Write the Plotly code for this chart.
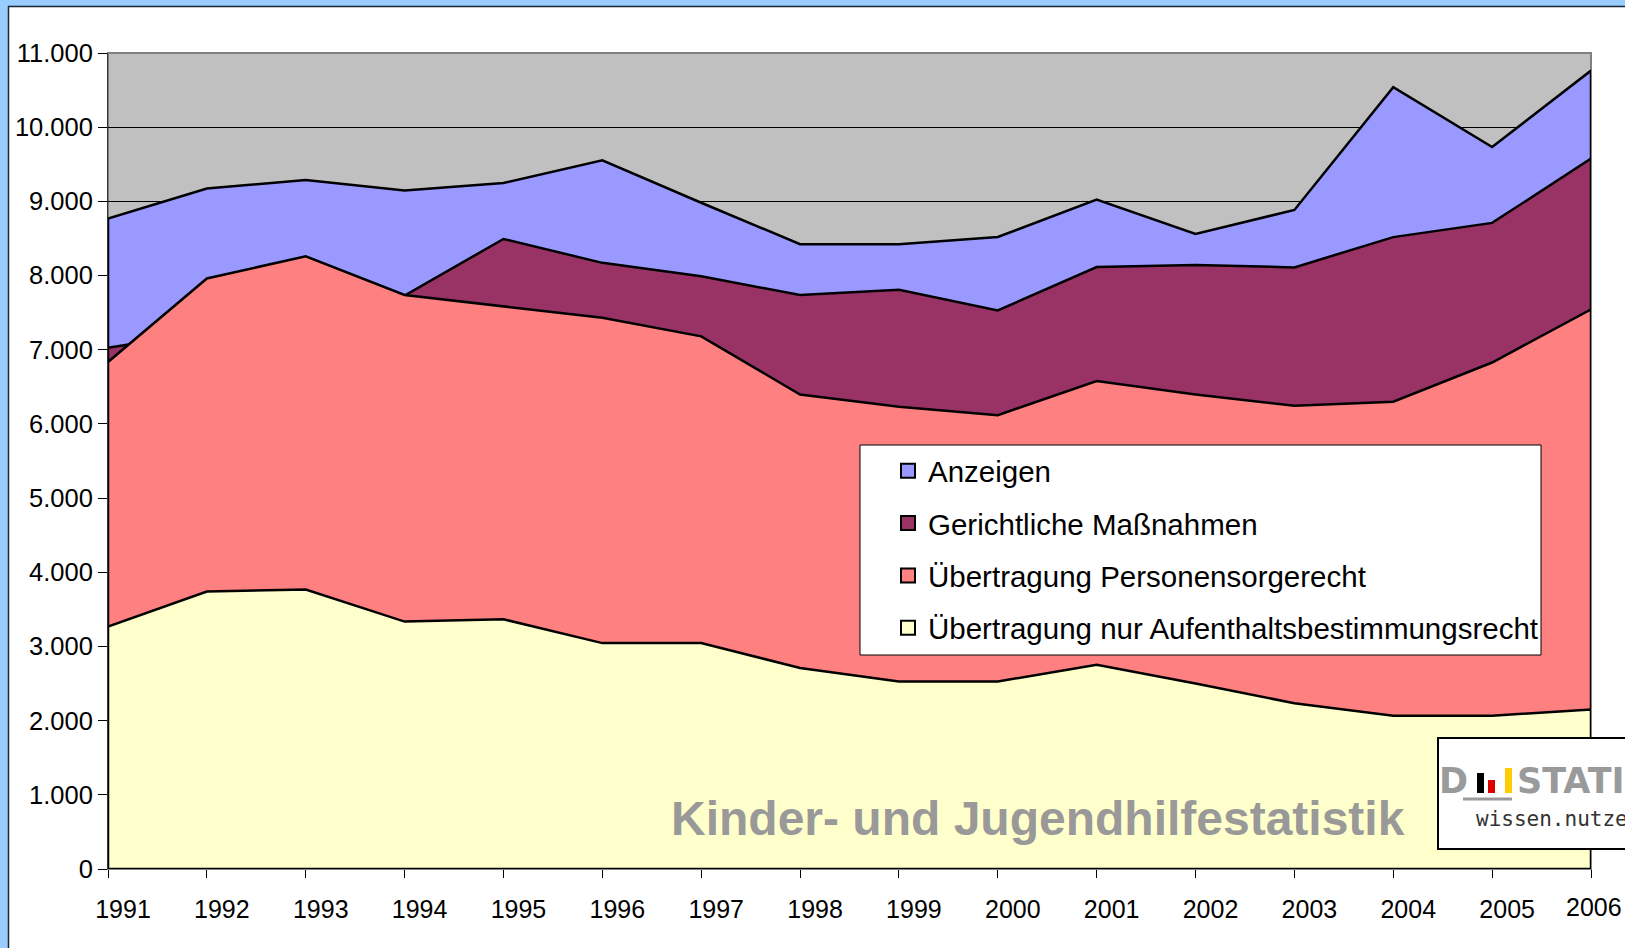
import plotly.graph_objects as go

# ---------------- data ----------------
years = list(range(1991, 2007))
# absolute heights of the (overlapping) area series
anzeigen = [8768, 9172, 9288, 9145, 9247, 9554, 8981, 8423, 8423, 8520, 9023, 8562, 8884, 10540, 9732, 10763]
gerichtliche = [7025, 7240, 7500, 7730, 8493, 8171, 7990, 7738, 7808, 7529, 8115, 8143, 8110, 8518, 8710, 9576]
personensorge = [6835, 7960, 8260, 7738, 7585, 7431, 7180, 6397, 6230, 6118, 6579, 6397, 6244, 6300, 6828, 7545]
aufenthalt = [3268, 3740, 3768, 3335, 3366, 3045, 3045, 2710, 2528, 2528, 2752, 2500, 2235, 2067, 2067, 2151]

series_names = ["Anzeigen", "Gerichtliche Maßnahmen", "Übertragung Personensorgerecht",
                "Übertragung nur Aufenthaltsbestimmungsrecht"]
series_values = [anzeigen, gerichtliche, personensorge, aufenthalt]
series_colors = ["#9999FF", "#993366", "#FF8080", "#FFFFCC"]
y_tick_vals = list(range(0, 11001, 1000))
x_tick_text = [str(y) for y in years]
title_text = "Kinder- und Jugendhilfestatistik"

# ---------------- layout helpers ----------------
W, H = 1625, 948
L, R, T, B = 108, 34, 53, 79
PW, PH = W - L - R, H - T - B
FONT = "Liberation Sans, Arial, sans-serif"


def px(x):
    return (x - L) / PW


def py(y):
    return (H - B - y) / PH


fig = go.Figure()

# area polygons (back to front)
for name, vals, col in zip(series_names, series_values, series_colors):
    xs = [years[0]] + years + [years[-1], years[0]]
    ys = [0] + vals + [0, 0]
    fig.add_trace(go.Scatter(x=xs, y=ys, mode="lines", fill="toself", fillcolor=col,
                             line=dict(color="black", width=2.5), showlegend=False,
                             hoverinfo="skip", name=name))

# legend entries (square swatches)
for name, col in zip(series_names, series_colors):
    fig.add_trace(go.Scatter(x=[None], y=[None], mode="markers", name=name, legendgroup=name,
                             marker=dict(symbol="square", size=14, color=col,
                                         line=dict(color="black", width=2))))

shapes = [
    # light blue frame strips
    dict(type="rect", xref="paper", yref="paper", x0=px(0), x1=px(8), y0=py(H), y1=py(0),
         fillcolor="#99CCFF", line=dict(width=0), layer="below"),
    dict(type="rect", xref="paper", yref="paper", x0=px(0), x1=px(W), y0=py(6), y1=py(0),
         fillcolor="#99CCFF", line=dict(width=0), layer="below"),
    dict(type="line", xref="paper", yref="paper", x0=px(8.5), x1=px(8.5), y0=py(6), y1=py(H),
         line=dict(color="#1a2633", width=1.5), layer="below"),
    dict(type="line", xref="paper", yref="paper", x0=px(8), x1=px(W), y0=py(6.5), y1=py(6.5),
         line=dict(color="#1a2633", width=1.5), layer="below"),
    # plot area border
    dict(type="rect", xref="paper", yref="paper", x0=0, x1=1, y0=0, y1=1,
         line=dict(color="#808080", width=2), fillcolor="rgba(0,0,0,0)", layer="between"),
    # legend box
    dict(type="rect", xref="paper", yref="paper", x0=px(860), x1=px(1541), y0=py(655), y1=py(445),
         fillcolor="white", line=dict(color="black", width=1), layer="above"),
    # logo box
    dict(type="rect", xref="paper", yref="paper", x0=px(1438), x1=px(1700), y0=py(849), y1=py(738),
         fillcolor="white", line=dict(color="black", width=2), layer="above"),
    # logo bars
    dict(type="rect", xref="paper", yref="paper", x0=px(1477), x1=px(1484), y0=py(793), y1=py(773),
         fillcolor="#000000", line=dict(width=0), layer="above"),
    dict(type="rect", xref="paper", yref="paper", x0=px(1488), x1=px(1495), y0=py(793), y1=py(780),
         fillcolor="#DD0000", line=dict(width=0), layer="above"),
    dict(type="rect", xref="paper", yref="paper", x0=px(1505), x1=px(1512), y0=py(793), y1=py(768),
         fillcolor="#FFCC00", line=dict(width=0), layer="above"),
    dict(type="line", xref="paper", yref="paper", x0=px(1463), x1=px(1512), y0=py(799), y1=py(799),
         line=dict(color="#9a9a9a", width=3), layer="above"),
]

annotations = [
    dict(text=title_text, xref="paper", yref="paper", x=px(1038), y=py(818), xanchor="center",
         yanchor="middle", showarrow=False,
         font=dict(family=FONT, size=48, color="#999999", weight="bold")),
    dict(text="D", xref="paper", yref="paper", x=px(1437), y=py(781), xanchor="left",
         yanchor="middle", showarrow=False,
         font=dict(family="DejaVu Sans, sans-serif", size=35, color="#9a9a9a", weight="bold")),
    dict(text="STATIS", xref="paper", yref="paper", x=px(1515), y=py(781), xanchor="left",
         yanchor="middle", showarrow=False,
         font=dict(family="DejaVu Sans, sans-serif", size=35, color="#9a9a9a", weight="bold")),
    dict(text="wissen.nutzen.", xref="paper", yref="paper", x=px(1474), y=py(819), xanchor="left",
         yanchor="middle", showarrow=False,
         font=dict(family="DejaVu Sans Mono, monospace", size=21, color="#333333")),
    # last x label kept inside the page
    dict(text=x_tick_text[-1], xref="x", yref="paper", x=years[-1], y=0, xanchor="center",
         yanchor="middle", yshift=-38, xshift=3, showarrow=False,
         font=dict(family=FONT, size=25, color="black")),
]

fig.update_layout(
    width=W, height=H,
    margin=dict(l=L, r=R, t=T, b=B, pad=0),
    paper_bgcolor="white",
    plot_bgcolor="#C0C0C0",
    separators=",.",
    showlegend=True,
    legend=dict(x=px(888), y=py(445), xanchor="left", yanchor="top",
                bgcolor="rgba(0,0,0,0)", borderwidth=0, tracegroupgap=11,
                font=dict(family=FONT, size=29.5, color="black")),
    xaxis=dict(range=[years[0], years[-1]], tickvals=years,
               ticktext=x_tick_text[:-1] + [""], automargin=False,
               ticks="outside", ticklen=8, tickcolor="black", tickwidth=1,
               showgrid=False, zeroline=False, showline=False,
               ticklabelshift=15, ticklabelstandoff=10,
               tickfont=dict(family=FONT, size=25, color="black")),
    yaxis=dict(range=[0, 11000], tickvals=y_tick_vals, tickformat=",d", automargin=False,
               ticks="outside", ticklen=9, tickcolor="black", tickwidth=1,
               showgrid=True, gridcolor="black", gridwidth=1,
               showline=True, linecolor="#333333", linewidth=1, zeroline=False,
               tickfont=dict(family=FONT, size=25.5, color="black")),
    shapes=shapes,
    annotations=annotations,
)

fig.write_html("out.html", config={"displayModeBar": False},
               post_script="document.body.style.margin='0';document.body.style.overflow='hidden';")
